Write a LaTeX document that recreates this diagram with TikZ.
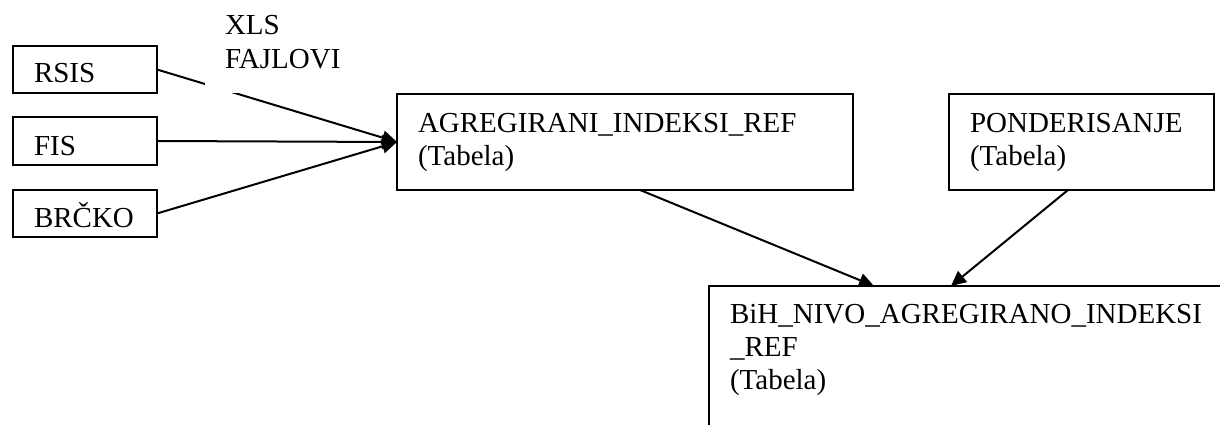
\documentclass[tikz,border=0pt]{standalone}
\usepackage{fontspec}
\setmainfont{Liberation Serif}
\usetikzlibrary{arrows.meta,calc}
\begin{document}
\begin{tikzpicture}[x=1pt,y=-1pt,
  txt/.style={font=\fontsize{29}{33.3}\selectfont},
  box/.style={txt, draw, line width=2pt, rectangle, anchor=north west, outer sep=0pt,
    inner xsep=21pt, inner ysep=0pt, align=left},
  conn/.style={line width=2pt, -{Triangle[length=15pt,width=14pt]}},
  lbl/.style={txt, fill=white, anchor=north west, outer sep=0pt, inner xsep=20pt,
    inner ysep=0pt, align=left}
  ]
\useasboundingbox (0,0) rectangle (1220,425);
\clip (0,0) rectangle (1220,425);
\fill[white] (0,0) rectangle (1220,425);

\node[box, text width=102pt, text height=37pt, text depth=10pt] (rsis) at (13,46) {RSIS};
\node[box, text width=102pt, text height=38pt, text depth=10pt] (fis) at (13,117) {FIS};
\node[box, text width=102pt, text height=37pt, text depth=10pt] (brcko) at (13,190) {BRČKO};

\node[box, text width=414pt, text height=38pt, text depth=58pt] (agreg) at (397,94)
  {AGREGIRANI\_INDEKSI\_REF\\(Tabela)};
\node[box, text width=223pt, text height=38pt, text depth=58pt] (ponder) at (949,94)
  {PONDERISANJE\\(Tabela)};
\node[box, text width=600pt, text height=37pt, text depth=300pt] (bih) at (709,286)
  {BiH\_NIVO\_AGREGIRANO\_INDEKSI\\\_REF\\(Tabela)};

\draw[conn] (rsis.east) -- (agreg.west);
\draw[conn] (fis.east) -- (agreg.west);
\draw[conn] (brcko.east) -- (agreg.west);
\draw[conn] ($(agreg.south west)!0.533!(agreg.south east)$) -- ([xshift=165pt]bih.north west);
\draw[conn] ([xshift=119pt]ponder.south west) -- ([xshift=242pt]bih.north west);

\node[lbl, text width=130pt, text height=25pt, text depth=58pt] (xls) at (205,10) {XLS\\FAJLOVI};
\end{tikzpicture}
\end{document}
